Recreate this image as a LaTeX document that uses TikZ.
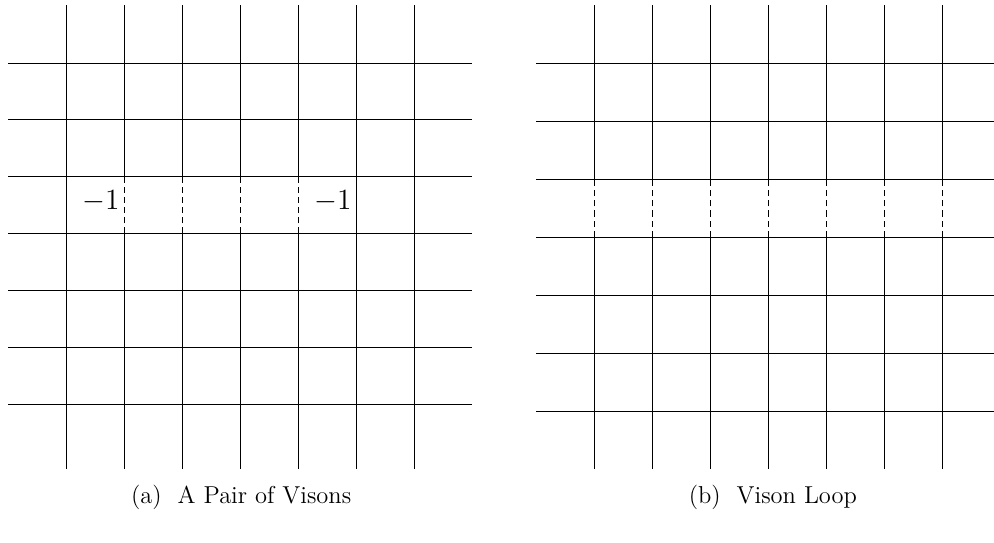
\documentclass[tikz,border=0pt]{standalone}
\begin{document}
\begin{tikzpicture}[
  bond/.style={thin},
  cut/.style={thin, densely dashed},
  charge/.style={font=\Large, inner sep=0pt},
  subcap/.style={font=\large, inner sep=0pt}
]
\useasboundingbox (0,0) rectangle (17.138,9.345);

% (a) pair of visons
\begin{scope}[shift={(0.138,1.259)}]
  \foreach \y in {0,...,6}
    \draw[bond] (0,7-0.98*\y) -- (8,7-0.98*\y);
  \foreach \x in {1,6,7}
    \draw[bond] (\x,0) -- (\x,8);
  \foreach \x in {2,...,5} {
    \draw[bond] (\x,0) -- (\x,4.06);
    \draw[cut] (\x,4.06) -- (\x,5.04);
    \draw[bond] (\x,5.04) -- (\x,8);
  }
  \node[charge] (qa) at (1.6,4.62) {$-1$};
  \node[charge] (qb) at (5.6,4.62) {$-1$};
  \node[subcap] (capa) at (4.02,-0.49) {(a)\ \ A Pair of Visons};
\end{scope}

% (b) vison loop
\begin{scope}[shift={(9.245,1.259)}]
  \foreach \y in {1,...,7}
    \draw[bond] (0,\y) -- (8,\y);
  \foreach \x in {1,...,7} {
    \draw[bond] (\x,0) -- (\x,4);
    \draw[cut] (\x,4) -- (\x,5);
    \draw[bond] (\x,5) -- (\x,8);
  }
  \node[subcap] (capb) at (4.08,-0.49) {(b)\ \ Vison Loop};
\end{scope}

\end{tikzpicture}
\end{document}
